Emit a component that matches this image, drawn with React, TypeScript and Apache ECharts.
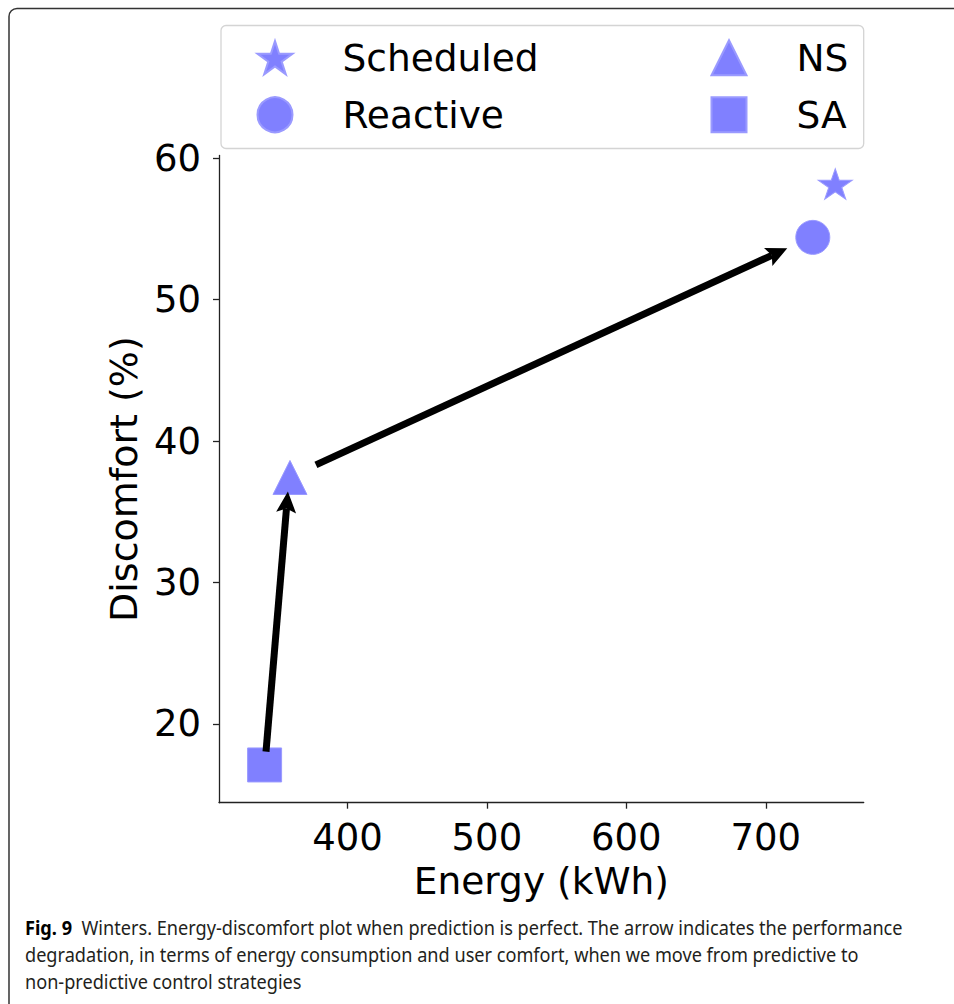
import React, { useEffect, useRef } from "react";
import * as echarts from "echarts";

// ---- data ----
const strategies = ["Scheduled", "Reactive", "NS", "SA"];
const energyKWh = [749.8, 733.7, 358.8, 340.6];
const discomfortPct = [58.19, 54.41, 37.43, 17.1];

const xTicks = [400, 500, 600, 700];
const yTicks = [20, 30, 40, 50, 60];

// arrows (from -> to), in data units
const arrowFromEnergy = [341.6, 377.4];
const arrowFromDiscomfort = [18.04, 38.32];
const arrowToEnergy = [357.3, 715.4];
const arrowToDiscomfort = [36.43, 53.64];

const captionLines = [
  "Winters. Energy-discomfort plot when prediction is perfect. The arrow indicates the performance",
  "degradation, in terms of energy consumption and user comfort, when we move from predictive to",
  "non-predictive control strategies",
];

const STAR =
  "path://M0,-1L0.2245,-0.309L0.9511,-0.309L0.3633,0.118L0.5878,0.809L0,0.382L-0.5878,0.809L-0.3633,0.118L-0.9511,-0.309L-0.2245,-0.309Z";
const markerSymbols = [STAR, "circle", "triangle", "rect"];
const markerSizes: any[] = [[34, 32], 34, 34, 34];

const FILL = "#8080ff";
const FONT = "DejaVu Sans";

export default function App() {
  const ref = useRef<HTMLDivElement>(null);
  useEffect(() => {
    if (!ref.current) return;
    const chart = echarts.init(ref.current, null, { renderer: "svg" });

    const scatterSeries = strategies.map((name, i) => ({
      type: "scatter",
      name,
      symbol: markerSymbols[i],
      symbolSize: markerSizes[i],
      symbolKeepAspect: true,
      itemStyle: { color: FILL, borderColor: "#9a9aff", borderWidth: 1, opacity: 1 },
      data: [[energyKWh[i], discomfortPct[i]]],
      z: 3,
    }));

    const arrowData = arrowFromEnergy.map((_, i) => [
      arrowFromEnergy[i],
      arrowFromDiscomfort[i],
      arrowToEnergy[i],
      arrowToDiscomfort[i],
    ]);

    const legendCommon = {
      orient: "vertical",
      itemWidth: 35,
      itemHeight: 35,
      itemGap: 19,
      selectedMode: false,
      textStyle: {
        fontFamily: FONT,
        fontSize: 37.5,
        color: "#000",
        padding: [0, 0, 0, 45],
      },
    };

    const option: any = {
      animation: false,
      backgroundColor: "#fff",
      grid: { left: 219, right: 90.3, top: 155.5, bottom: 201.3, containLabel: false },
      legend: [
        { ...legendCommon, left: 251.5, top: 33.75, data: ["Scheduled", "Reactive"] },
        { ...legendCommon, left: 705.5, top: 33.75, data: ["NS", "SA"] },
      ],
      xAxis: {
        type: "value",
        min: 307.9,
        max: 770.2,
        name: "Energy (kWh)",
        nameLocation: "middle",
        nameGap: 59,
        nameTextStyle: { fontFamily: FONT, fontSize: 37.5, color: "#000" },
        axisLine: { show: true, lineStyle: { color: "#222", width: 1.3 } },
        axisTick: { show: true, inside: false, length: 6, customValues: xTicks, lineStyle: { color: "#222", width: 1.3 } },
        axisLabel: { customValues: xTicks, margin: 16, fontFamily: FONT, fontSize: 37, color: "#000" },
        splitLine: { show: false },
      },
      yAxis: {
        type: "value",
        min: 14.43,
        max: 60.2,
        name: "Discomfort (%)",
        nameLocation: "middle",
        nameGap: 73.5,
        nameTextStyle: { fontFamily: FONT, fontSize: 38, color: "#000" },
        axisLine: { show: true, lineStyle: { color: "#222", width: 1.3 } },
        axisTick: { show: true, inside: false, length: 6, customValues: yTicks, lineStyle: { color: "#222", width: 1.3 } },
        axisLabel: { customValues: yTicks, margin: 18, fontFamily: FONT, fontSize: 37, color: "#000" },
        splitLine: { show: false },
      },
      graphic: [
        {
          type: "rect",
          z: 0,
          shape: { x: 9, y: 8.5, width: 1000, height: 1050, r: 8 },
          style: { fill: "none", stroke: "#333", lineWidth: 1.5 },
          silent: true,
        },
        {
          type: "rect",
          z: 1,
          shape: { x: 221, y: 25.5, width: 642.7, height: 123, r: 5 },
          style: { fill: "#fff", stroke: "#d4d4d4", lineWidth: 1.3 },
          silent: true,
        },
        {
          type: "text",
          z: 5,
          x: 25,
          y: 914,
          scaleX: 0.907,
          style: {
            text: "{b|Fig. 9}  " + captionLines.join("\n"),
            fontFamily: "Noto Sans",
            fontSize: 20,
            lineHeight: 27,
            fill: "#231f20",
            rich: {
              b: { fontFamily: "Noto Sans", fontSize: 20, fontWeight: "bold", lineHeight: 27, fill: "#000", color: "#000" },
            },
          },
        },
      ],
      series: [
        ...scatterSeries,
        {
          type: "custom",
          name: "arrows",
          clip: false,
          z: 4,
          data: arrowData,
          renderItem: (params: any, api: any) => {
            const a = api.coord([api.value(0), api.value(1)]);
            const b = api.coord([api.value(2), api.value(3)]);
            const dx = b[0] - a[0];
            const dy = b[1] - a[1];
            const len = Math.hypot(dx, dy);
            const ux = dx / len;
            const uy = dy / len;
            const nx = -uy;
            const ny = ux;
            const headLen = 21;
            const headHalf = 10;
            const notch = 4;
            const bx = b[0] - ux * headLen;
            const by = b[1] - uy * headLen;
            const mx = b[0] - ux * (headLen - notch);
            const my = b[1] - uy * (headLen - notch);
            return {
              type: "group",
              children: [
                {
                  type: "line",
                  shape: { x1: a[0], y1: a[1], x2: mx, y2: my },
                  style: { stroke: "#000", lineWidth: 7 },
                },
                {
                  type: "polygon",
                  shape: {
                    points: [
                      [b[0], b[1]],
                      [bx + nx * headHalf, by + ny * headHalf],
                      [mx, my],
                      [bx - nx * headHalf, by - ny * headHalf],
                    ],
                  },
                  style: { fill: "#000" },
                },
              ],
            };
          },
        },
      ],
    };

    chart.setOption(option);
    return () => chart.dispose();
  }, []);

  return (
    <div
      ref={ref}
      style={{ position: "absolute", left: 0, top: 0, width: 954, height: 1004 }}
    />
  );
}
